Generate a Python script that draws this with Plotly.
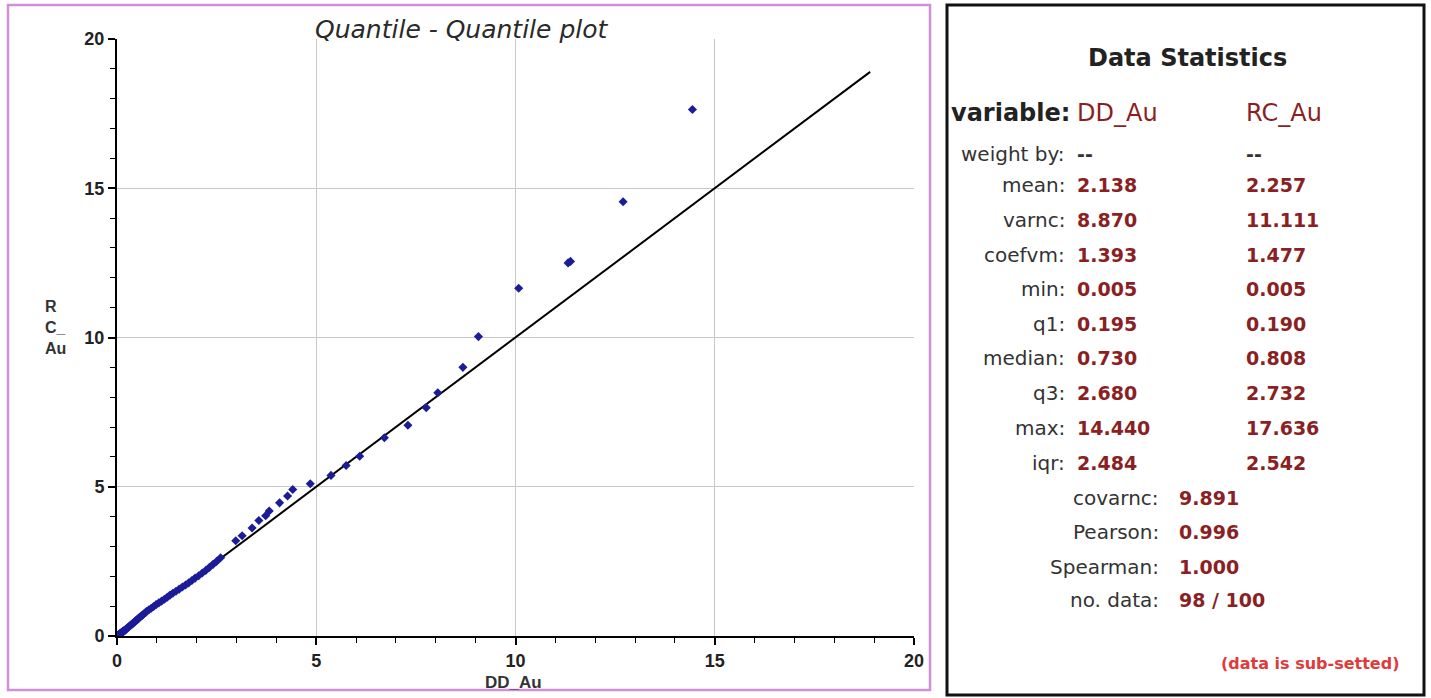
import plotly.graph_objects as go

W, H = 1431, 698

# quantile pairs (DD_Au, RC_Au)
dd_au = [
    0.005, 0.01, 0.015, 0.02, 0.025, 0.03, 0.04, 0.045, 0.05, 0.06, 0.07, 0.08,
    0.09, 0.10, 0.11, 0.12, 0.13, 0.14, 0.15, 0.16, 0.17, 0.18, 0.185, 0.19,
    0.195, 0.21, 0.23, 0.25, 0.27, 0.29, 0.31, 0.33, 0.35, 0.37, 0.39, 0.41,
    0.43, 0.45, 0.47, 0.49, 0.51, 0.53, 0.55, 0.57, 0.60, 0.63, 0.66, 0.69, 0.72,
    0.74, 0.80, 0.86, 0.92, 0.98, 1.05, 1.12, 1.19, 1.26, 1.33, 1.40, 1.48,
    1.56, 1.64, 1.72, 1.80, 1.88, 1.96, 2.05, 2.14, 2.23, 2.32, 2.41, 2.50, 2.60,
    2.98, 3.14, 3.39, 3.56, 3.73, 3.82, 4.08, 4.28, 4.41, 4.85, 5.37, 5.75,
    6.09, 6.71, 7.30, 7.76, 8.05, 8.68, 9.07, 10.08, 11.32, 11.38, 12.70, 14.44,
]
rc_au = [
    0.005, 0.01, 0.015, 0.02, 0.025, 0.03, 0.035, 0.04, 0.05, 0.06, 0.07, 0.08,
    0.09, 0.10, 0.11, 0.12, 0.13, 0.14, 0.15, 0.155, 0.165, 0.175, 0.18, 0.185,
    0.19, 0.21, 0.23, 0.26, 0.28, 0.30, 0.32, 0.35, 0.37, 0.39, 0.41, 0.44,
    0.46, 0.48, 0.51, 0.53, 0.55, 0.58, 0.60, 0.63, 0.66, 0.69, 0.72, 0.76, 0.79,
    0.82, 0.88, 0.93, 0.99, 1.05, 1.11, 1.17, 1.23, 1.30, 1.37, 1.43, 1.50,
    1.57, 1.64, 1.71, 1.78, 1.86, 1.94, 2.02, 2.11, 2.20, 2.30, 2.40, 2.50, 2.62,
    3.19, 3.36, 3.62, 3.87, 4.03, 4.19, 4.46, 4.69, 4.91, 5.10, 5.38, 5.71,
    6.02, 6.64, 7.06, 7.65, 8.15, 9.00, 10.03, 11.65, 12.50, 12.55, 14.55, 17.636,
]
ref_line = [0, 18.9]

stat_names = ["weight by:", "mean:", "varnc:", "coefvm:", "min:", "q1:",
              "median:", "q3:", "max:", "iqr:"]
stat_dd = ["--", "2.138", "8.870", "1.393", "0.005", "0.195", "0.730",
           "2.680", "14.440", "2.484"]
stat_rc = ["--", "2.257", "11.111", "1.477", "0.005", "0.190", "0.808",
           "2.732", "17.636", "2.542"]
pair_names = ["covarnc:", "Pearson:", "Spearman:", "no. data:"]
pair_vals = ["9.891", "0.996", "1.000", "98 / 100"]

ARIAL = "Liberation Sans, Arial, sans-serif"
VERD = "DejaVu Sans, Verdana, sans-serif"
VAL = "#8a1f24"
LAB = "#333333"


def px(x):
    return x / W


def py(y):
    return 1 - y / H


fig = go.Figure()
fig.add_trace(go.Scatter(x=ref_line, y=ref_line, mode="lines",
                         line=dict(color="black", width=2), hoverinfo="skip"))
fig.add_trace(go.Scatter(x=dd_au, y=rc_au, mode="markers",
                         marker=dict(color="#1c1c98", size=7, symbol="diamond")))

axis = dict(
    range=[0, 20], dtick=5, showline=True, linecolor="black", linewidth=2,
    zeroline=False, showgrid=True, gridcolor="#c8c8c8", gridwidth=1,
    ticks="outside", ticklen=7, tickwidth=1.5, tickcolor="black",
    minor=dict(dtick=1, ticks="outside", ticklen=5, tickwidth=1.2,
               tickcolor="black", showgrid=False),
    tickfont=dict(family=ARIAL, size=18, color="#222", weight="bold"),
    automargin=False, fixedrange=True,
)
fig.update_xaxes(axis, domain=[px(117), px(914)])
fig.update_yaxes(axis, domain=[py(636), py(39)])

ann = []
ann.append(dict(x=px(461), y=py(29), text="<i>Quantile - Quantile plot</i>",
                font=dict(family=VERD, size=25, color="#2a2a2a")))
ann.append(dict(x=px(513), y=py(682), text="<b>DD_Au</b>",
                font=dict(family=ARIAL, size=17, color="#333")))
ann.append(dict(x=px(43), y=py(328), text="<b>R<br>C_<br>Au</b>", xanchor="left",
                align="left", font=dict(family=ARIAL, size=16, color="#333")))

# statistics panel
ann.append(dict(x=px(1187), y=py(58), text="<b>Data Statistics</b>",
                font=dict(family=VERD, size=24, color="#222")))
ann.append(dict(x=px(1072), y=py(113), text="<b>variable:</b>", xanchor="right",
                font=dict(family=VERD, size=24, color="#222")))
ann.append(dict(x=px(1075), y=py(113), text="DD_Au", xanchor="left",
                font=dict(family=VERD, size=24, color=VAL)))
ann.append(dict(x=px(1244), y=py(113), text="RC_Au", xanchor="left",
                font=dict(family=VERD, size=24, color=VAL)))
rows_y = [154, 185, 220, 255, 289, 324, 358, 393, 428, 463]
for name, a, b, yy in zip(stat_names, stat_dd, stat_rc, rows_y):
    ann.append(dict(x=px(1067), y=py(yy), text=name, xanchor="right",
                    font=dict(family=VERD, size=20, color=LAB)))
    ann.append(dict(x=px(1075), y=py(yy), text=f"<b>{a}</b>", xanchor="left",
                    font=dict(family=VERD, size=19, color=VAL if a != "--" else LAB)))
    ann.append(dict(x=px(1244), y=py(yy), text=f"<b>{b}</b>", xanchor="left",
                    font=dict(family=VERD, size=19, color=VAL if b != "--" else LAB)))
for name, v, yy in zip(pair_names, pair_vals, [498, 532, 567, 600]):
    ann.append(dict(x=px(1161), y=py(yy), text=name, xanchor="right",
                    font=dict(family=VERD, size=20, color=LAB)))
    ann.append(dict(x=px(1177), y=py(yy), text=f"<b>{v}</b>", xanchor="left",
                    font=dict(family=VERD, size=19, color=VAL)))
ann.append(dict(x=px(1401), y=py(663), text="<b>(data is sub-setted)</b>",
                xanchor="right", font=dict(family=VERD, size=16, color="#e03a3a")))

for a in ann:
    a.setdefault("xanchor", "center")
    a.update(xref="paper", yref="paper", yanchor="middle", showarrow=False)

shapes = [
    dict(type="rect", xref="paper", yref="paper", x0=px(8), x1=px(930),
         y0=py(690), y1=py(5), line=dict(color="#d08fd6", width=2.5)),
    dict(type="rect", xref="paper", yref="paper", x0=px(947), x1=px(1424),
         y0=py(695), y1=py(5), line=dict(color="#111", width=3)),
]

fig.update_layout(
    width=W, height=H, margin=dict(l=0, r=0, t=0, b=0),
    paper_bgcolor="white", plot_bgcolor="white", showlegend=False,
    annotations=ann, shapes=shapes,
)
fig.write_html("out.html", config={"displayModeBar": False},
               post_script="document.body.style.margin = '0';")
